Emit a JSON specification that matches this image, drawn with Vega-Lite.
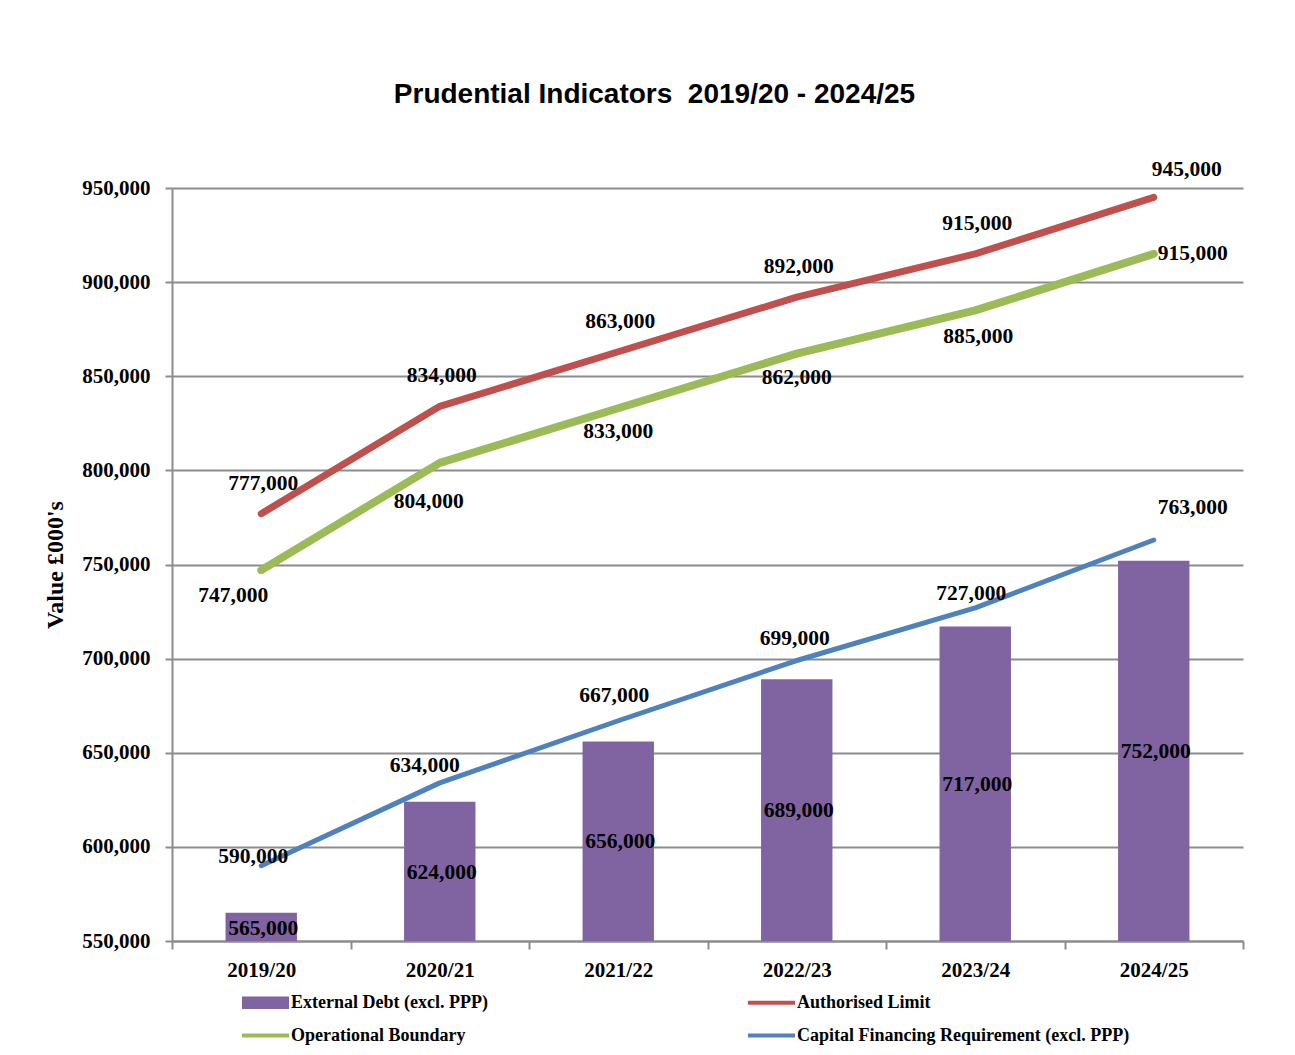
{
  "$schema": "https://vega.github.io/schema/vega-lite/v6.json",
  "width": 1071,
  "height": 753,
  "autosize": "none",
  "padding": {"left": 172, "top": 188, "right": 52, "bottom": 114},
  "background": "white",
  "title": {
    "text": "Prudential Indicators\u00a0 2019/20 - 2024/25",
    "font": "Liberation Sans",
    "fontSize": 28,
    "fontWeight": "bold",
    "color": "#000000",
    "anchor": "middle",
    "dx": -53,
    "offset": 50
  },
  "config": {
    "view": {"stroke": null},
    "text": {"font": "Liberation Serif", "fontSize": 21.5, "fontWeight": "bold", "color": "#000000", "align": "center", "baseline": "middle"}
  },
  "data": {
    "values": [
      {"year": "2019/20", "series": "External Debt (excl. PPP)", "value": 565000},
      {"year": "2020/21", "series": "External Debt (excl. PPP)", "value": 624000},
      {"year": "2021/22", "series": "External Debt (excl. PPP)", "value": 656000},
      {"year": "2022/23", "series": "External Debt (excl. PPP)", "value": 689000},
      {"year": "2023/24", "series": "External Debt (excl. PPP)", "value": 717000},
      {"year": "2024/25", "series": "External Debt (excl. PPP)", "value": 752000},
      {"year": "2019/20", "series": "Authorised Limit", "value": 777000},
      {"year": "2020/21", "series": "Authorised Limit", "value": 834000},
      {"year": "2021/22", "series": "Authorised Limit", "value": 863000},
      {"year": "2022/23", "series": "Authorised Limit", "value": 892000},
      {"year": "2023/24", "series": "Authorised Limit", "value": 915000},
      {"year": "2024/25", "series": "Authorised Limit", "value": 945000},
      {"year": "2019/20", "series": "Operational Boundary", "value": 747000},
      {"year": "2020/21", "series": "Operational Boundary", "value": 804000},
      {"year": "2021/22", "series": "Operational Boundary", "value": 833000},
      {"year": "2022/23", "series": "Operational Boundary", "value": 862000},
      {"year": "2023/24", "series": "Operational Boundary", "value": 885000},
      {"year": "2024/25", "series": "Operational Boundary", "value": 915000},
      {"year": "2019/20", "series": "Capital Financing Requirement (excl. PPP)", "value": 590000},
      {"year": "2020/21", "series": "Capital Financing Requirement (excl. PPP)", "value": 634000},
      {"year": "2021/22", "series": "Capital Financing Requirement (excl. PPP)", "value": 667000},
      {"year": "2022/23", "series": "Capital Financing Requirement (excl. PPP)", "value": 699000},
      {"year": "2023/24", "series": "Capital Financing Requirement (excl. PPP)", "value": 727000},
      {"year": "2024/25", "series": "Capital Financing Requirement (excl. PPP)", "value": 763000}
    ]
  },
  "encoding": {
    "x": {
      "field": "year",
      "type": "nominal",
      "sort": null,
      "scale": {"paddingInner": 0, "paddingOuter": 0},
      "axis": {
        "title": null,
        "labelAngle": 0,
        "labelFont": "Liberation Serif",
        "labelFontWeight": "bold",
        "labelFontSize": 21,
        "labelColor": "#000000",
        "labelPadding": 10,
        "tickBand": "extent",
        "tickSize": 8,
        "tickColor": "#8c8c8c",
        "tickWidth": 2,
        "domainColor": "#8c8c8c",
        "domainWidth": 2,
        "grid": false
      }
    },
    "y": {
      "field": "value",
      "type": "quantitative",
      "scale": {"domain": [550000, 950000], "nice": false, "zero": false},
      "axis": {
        "title": "Value £000's",
        "titleFont": "Liberation Serif",
        "titleFontSize": 24,
        "titleFontWeight": "bold",
        "titleColor": "#000000",
        "titlePadding": 14,
        "values": [550000, 600000, 650000, 700000, 750000, 800000, 850000, 900000, 950000],
        "format": ",d",
        "labelFont": "Liberation Serif",
        "labelFontWeight": "bold",
        "labelFontSize": 21,
        "labelColor": "#000000",
        "labelPadding": 15,
        "tickSize": 7,
        "tickColor": "#8c8c8c",
        "tickWidth": 2,
        "domainColor": "#8c8c8c",
        "domainWidth": 2,
        "grid": true,
        "gridColor": "#8c8c8c",
        "gridWidth": 2
      }
    }
  },
  "layer": [
    {
      "transform": [{"filter": {"field": "series", "equal": "External Debt (excl. PPP)"}}],
      "mark": {"type": "bar", "width": {"band": 0.4}},
      "encoding": {
        "y2": {"datum": 550000},
        "color": {
          "field": "series",
          "type": "nominal",
          "scale": {
            "domain": ["External Debt (excl. PPP)", "Operational Boundary", "Authorised Limit", "Capital Financing Requirement (excl. PPP)"],
            "range": ["#8064A2", "#9BBB59", "#C0504D", "#4F81BD"]
          },
          "legend": {
            "orient": "none",
            "legendX": 70,
            "legendY": 791,
            "columns": 2,
            "columnPadding": 260,
            "rowPadding": -3,
            "title": null,
            "labelFont": "Liberation Serif",
            "labelFontSize": 18,
            "labelFontWeight": "bold",
            "labelColor": "#000000",
            "labelOffset": 2,
            "labelLimit": 500,
            "symbolType": "M-1,-0.1H1V0.1H-1Z",
            "symbolSize": 2209,
            "symbolStrokeWidth": 0,
            "encode": {
              "symbols": {
                "update": {
                  "shape": {"signal": "datum.value === 'External Debt (excl. PPP)' ? 'M-1,-0.27H1V0.27H-1Z' : 'M-1,-0.09H1V0.09H-1Z'"},
                  "fill": {"scale": "color", "field": "value"},
                  "opacity": {"value": 1}
                }
              }
            }
          }
        }
      }
    },
    {
      "transform": [{"filter": {"field": "series", "equal": "Authorised Limit"}}],
      "mark": {"type": "line", "strokeWidth": 7, "strokeCap": "round", "strokeJoin": "round"},
      "encoding": {"color": {"field": "series", "type": "nominal"}}
    },
    {
      "transform": [{"filter": {"field": "series", "equal": "Operational Boundary"}}],
      "mark": {"type": "line", "strokeWidth": 8, "strokeCap": "round", "strokeJoin": "round"},
      "encoding": {"color": {"field": "series", "type": "nominal"}}
    },
    {
      "transform": [{"filter": {"field": "series", "equal": "Capital Financing Requirement (excl. PPP)"}}],
      "mark": {"type": "line", "strokeWidth": 5, "strokeCap": "round", "strokeJoin": "round"},
      "encoding": {"color": {"field": "series", "type": "nominal"}}
    },
    {
      "transform": [{"filter": {"and": [{"field": "series", "equal": "External Debt (excl. PPP)"}, {"field": "year", "equal": "2019/20"}]}}],
      "mark": {"type": "text", "dx": 2, "dy": 16},
      "encoding": {"text": {"field": "value", "type": "quantitative", "format": ",d"}}
    },
    {
      "transform": [{"filter": {"and": [{"field": "series", "equal": "External Debt (excl. PPP)"}, {"field": "year", "equal": "2020/21"}]}}],
      "mark": {"type": "text", "dx": 2, "dy": 71},
      "encoding": {"text": {"field": "value", "type": "quantitative", "format": ",d"}}
    },
    {
      "transform": [{"filter": {"and": [{"field": "series", "equal": "External Debt (excl. PPP)"}, {"field": "year", "equal": "2021/22"}]}}],
      "mark": {"type": "text", "dx": 2, "dy": 101},
      "encoding": {"text": {"field": "value", "type": "quantitative", "format": ",d"}}
    },
    {
      "transform": [{"filter": {"and": [{"field": "series", "equal": "External Debt (excl. PPP)"}, {"field": "year", "equal": "2022/23"}]}}],
      "mark": {"type": "text", "dx": 2, "dy": 132},
      "encoding": {"text": {"field": "value", "type": "quantitative", "format": ",d"}}
    },
    {
      "transform": [{"filter": {"and": [{"field": "series", "equal": "External Debt (excl. PPP)"}, {"field": "year", "equal": "2023/24"}]}}],
      "mark": {"type": "text", "dx": 2, "dy": 158},
      "encoding": {"text": {"field": "value", "type": "quantitative", "format": ",d"}}
    },
    {
      "transform": [{"filter": {"and": [{"field": "series", "equal": "External Debt (excl. PPP)"}, {"field": "year", "equal": "2024/25"}]}}],
      "mark": {"type": "text", "dx": 2, "dy": 191},
      "encoding": {"text": {"field": "value", "type": "quantitative", "format": ",d"}}
    },
    {
      "transform": [{"filter": {"and": [{"field": "series", "equal": "Authorised Limit"}, {"field": "year", "oneOf": ["2019/20", "2020/21", "2021/22", "2022/23", "2023/24"]}]}}],
      "mark": {"type": "text", "dx": 2, "dy": -30},
      "encoding": {"text": {"field": "value", "type": "quantitative", "format": ",d"}}
    },
    {
      "transform": [{"filter": {"and": [{"field": "series", "equal": "Authorised Limit"}, {"field": "year", "equal": "2024/25"}]}}],
      "mark": {"type": "text", "dx": 33, "dy": -27},
      "encoding": {"text": {"field": "value", "type": "quantitative", "format": ",d"}}
    },
    {
      "transform": [{"filter": {"and": [{"field": "series", "equal": "Operational Boundary"}, {"field": "year", "equal": "2019/20"}]}}],
      "mark": {"type": "text", "dx": -28, "dy": 26},
      "encoding": {"text": {"field": "value", "type": "quantitative", "format": ",d"}}
    },
    {
      "transform": [{"filter": {"and": [{"field": "series", "equal": "Operational Boundary"}, {"field": "year", "equal": "2020/21"}]}}],
      "mark": {"type": "text", "dx": -11, "dy": 39},
      "encoding": {"text": {"field": "value", "type": "quantitative", "format": ",d"}}
    },
    {
      "transform": [{"filter": {"and": [{"field": "series", "equal": "Operational Boundary"}, {"field": "year", "oneOf": ["2021/22", "2022/23"]}]}}],
      "mark": {"type": "text", "dx": 0, "dy": 24},
      "encoding": {"text": {"field": "value", "type": "quantitative", "format": ",d"}}
    },
    {
      "transform": [{"filter": {"and": [{"field": "series", "equal": "Operational Boundary"}, {"field": "year", "equal": "2023/24"}]}}],
      "mark": {"type": "text", "dx": 3, "dy": 27},
      "encoding": {"text": {"field": "value", "type": "quantitative", "format": ",d"}}
    },
    {
      "transform": [{"filter": {"and": [{"field": "series", "equal": "Operational Boundary"}, {"field": "year", "equal": "2024/25"}]}}],
      "mark": {"type": "text", "dx": 39, "dy": 0},
      "encoding": {"text": {"field": "value", "type": "quantitative", "format": ",d"}}
    },
    {
      "transform": [{"filter": {"and": [{"field": "series", "equal": "Capital Financing Requirement (excl. PPP)"}, {"field": "year", "equal": "2019/20"}]}}],
      "mark": {"type": "text", "dx": -8, "dy": -9},
      "encoding": {"text": {"field": "value", "type": "quantitative", "format": ",d"}}
    },
    {
      "transform": [{"filter": {"and": [{"field": "series", "equal": "Capital Financing Requirement (excl. PPP)"}, {"field": "year", "equal": "2020/21"}]}}],
      "mark": {"type": "text", "dx": -15, "dy": -17},
      "encoding": {"text": {"field": "value", "type": "quantitative", "format": ",d"}}
    },
    {
      "transform": [{"filter": {"and": [{"field": "series", "equal": "Capital Financing Requirement (excl. PPP)"}, {"field": "year", "equal": "2021/22"}]}}],
      "mark": {"type": "text", "dx": -4, "dy": -25},
      "encoding": {"text": {"field": "value", "type": "quantitative", "format": ",d"}}
    },
    {
      "transform": [{"filter": {"and": [{"field": "series", "equal": "Capital Financing Requirement (excl. PPP)"}, {"field": "year", "equal": "2022/23"}]}}],
      "mark": {"type": "text", "dx": -2, "dy": -22},
      "encoding": {"text": {"field": "value", "type": "quantitative", "format": ",d"}}
    },
    {
      "transform": [{"filter": {"and": [{"field": "series", "equal": "Capital Financing Requirement (excl. PPP)"}, {"field": "year", "equal": "2023/24"}]}}],
      "mark": {"type": "text", "dx": -4, "dy": -14},
      "encoding": {"text": {"field": "value", "type": "quantitative", "format": ",d"}}
    },
    {
      "transform": [{"filter": {"and": [{"field": "series", "equal": "Capital Financing Requirement (excl. PPP)"}, {"field": "year", "equal": "2024/25"}]}}],
      "mark": {"type": "text", "dx": 39, "dy": -32},
      "encoding": {"text": {"field": "value", "type": "quantitative", "format": ",d"}}
    }
  ]
}
